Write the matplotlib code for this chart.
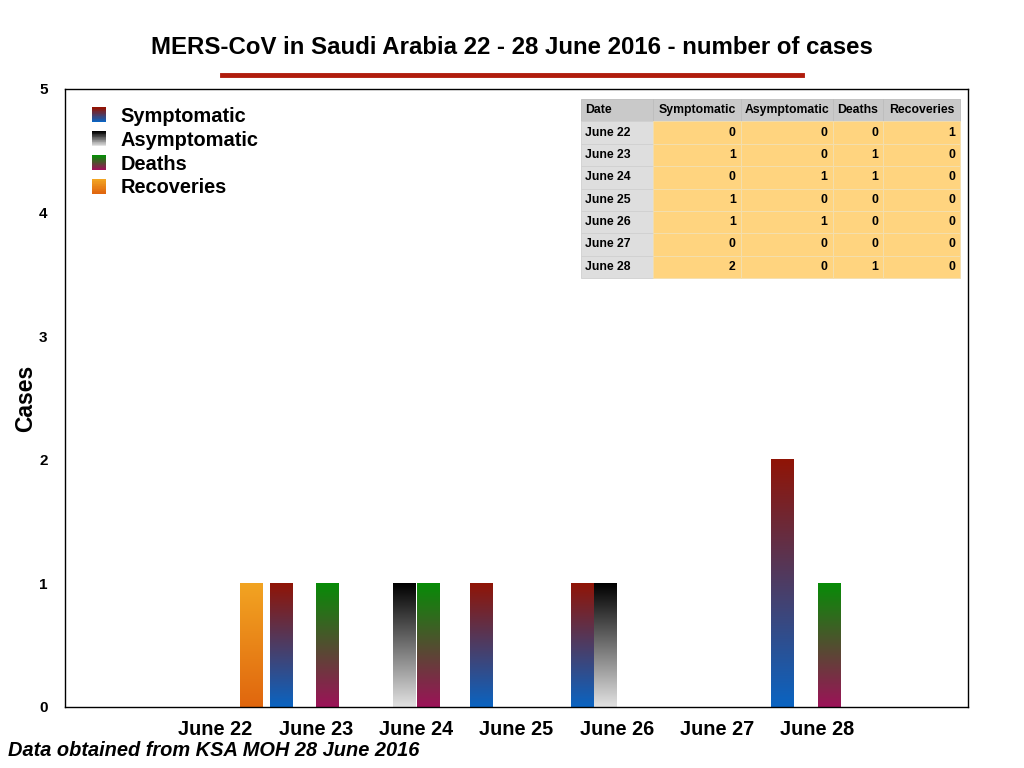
import numpy as np
import matplotlib
matplotlib.use('Agg')
import matplotlib.pyplot as plt
from matplotlib.colors import LinearSegmentedColormap
from matplotlib.lines import Line2D
from matplotlib.patches import Rectangle
from matplotlib.legend_handler import HandlerBase

plt.rcParams['font.family'] = ['Liberation Sans', 'DejaVu Sans']
plt.rcParams['font.weight'] = 'bold'

# Data
dates = ['June 22', 'June 23', 'June 24', 'June 25', 'June 26', 'June 27', 'June 28']
series = ['Symptomatic', 'Asymptomatic', 'Deaths', 'Recoveries']
symptomatic = [0, 1, 0, 1, 1, 0, 2]
asymptomatic = [0, 0, 1, 0, 1, 0, 0]
deaths = [0, 1, 1, 0, 0, 0, 1]
recoveries = [1, 0, 0, 0, 0, 0, 0]
values = [symptomatic, asymptomatic, deaths, recoveries]

# gradient colours (bottom, top)
gradients = [('#0a64c2', '#901406'),
             ('#e2e2e2', '#000000'),
             ('#9c1258', '#078c07'),
             ('#e0660e', '#f2a422')]
cmaps = [LinearSegmentedColormap.from_list(n, list(c)) for n, c in zip(series, gradients)]

fig = plt.figure(figsize=(10.24, 7.68), dpi=100)
ax = fig.add_axes([65/1024, 61/768, 903/1024, 618/768])

x = np.arange(len(dates))
width = 0.22
step = 0.233
grad = np.linspace(0, 1, 256).reshape(-1, 1)

for i, (name, vals) in enumerate(zip(series, values)):
    bars = ax.bar(x + (i - 1.5) * step, vals, width, color='none', edgecolor='none', zorder=2)
    for bar in bars:
        h = bar.get_height()
        if h == 0:
            continue
        x0 = bar.get_x()
        ax.imshow(grad, cmap=cmaps[i], origin='lower', aspect='auto',
                  extent=[x0, x0 + bar.get_width(), 0, h], zorder=2)

ax.set_xlim(-1.5, 7.5)
ax.set_ylim(0, 5)
ax.set_xticks(x)
ax.set_xticklabels(dates, fontsize=14.3, fontweight='bold')
ax.set_yticks(range(6))
ax.set_yticklabels([str(v) for v in range(6)], fontsize=11, fontweight='bold')
ax.tick_params(axis='both', length=0)
ax.tick_params(axis='y', pad=12.5)
ax.tick_params(axis='x', pad=9.5)
ax.set_ylabel('Cases', fontsize=16.5, fontweight='bold')
ax.yaxis.set_label_coords(-0.031, 0.5)
for s in ax.spines.values():
    s.set_linewidth(1.0)
    s.set_color('black')


# legend with gradient squares
class HandlerGradient(HandlerBase):
    def __init__(self, cmap):
        super().__init__()
        self.cmap = cmap

    def create_artists(self, legend, orig_handle, xdescent, ydescent, width, height, fontsize, trans):
        n = 20
        side = width
        y0 = -ydescent + (height - side) / 2
        artists = []
        for k in range(n):
            r = Rectangle((-xdescent, y0 + k * side / n), side, side / n + 0.3,
                          facecolor=self.cmap(k / (n - 1)), edgecolor='none', transform=trans)
            artists.append(r)
        return artists


handles = [Rectangle((0, 0), 1, 1) for _ in series]
ax.legend(handles, series, loc='upper left', bbox_to_anchor=(0.01, 1.0), frameon=False,
          handler_map={h: HandlerGradient(c) for h, c in zip(handles, cmaps)},
          prop={'size': 14.4, 'weight': 'bold'}, handlelength=0.72, handletextpad=0.7,
          labelspacing=0.24)

# table
col_labels = ['Date'] + series
cell_text = [[d, str(a), str(b), str(c), str(e)]
             for d, a, b, c, e in zip(dates, symptomatic, asymptomatic, deaths, recoveries)]
col_w = np.array([72, 88, 92, 50, 77], dtype=float)
col_w = col_w / col_w.sum()
tbl = ax.table(cellText=cell_text, colLabels=col_labels, colWidths=list(col_w),
               bbox=[516/903, 429/618, 379/903, 179/618], zorder=5)
tbl.auto_set_font_size(False)
tbl.set_fontsize(8.8)
for (r, c), cell in tbl.get_celld().items():
    cell.set_linewidth(0.6)
    txt = cell.get_text()
    txt.set_fontweight('bold')
    if r == 0:
        cell.set_facecolor('#c9c9c9')
        cell.set_edgecolor('#bdbdbd')
        txt.set_ha('left' if c == 0 else 'center')
    elif c == 0:
        cell.set_facecolor('#dedede')
        cell.set_edgecolor('#d0d0d0')
        txt.set_ha('left')
    else:
        cell.set_facecolor('#ffd47f')
        cell.set_edgecolor('#f3dfb0')
        txt.set_ha('right')
    cell.PAD = 0.06 if c != 3 else 0.1

# title, rule and footnote
fig.text(0.5, 1 - 47/768, 'MERS-CoV in Saudi Arabia 22 - 28 June 2016 - number of cases',
         ha='center', va='center', fontsize=17.3, fontweight='bold')
fig.add_artist(Line2D([222/1024, 802/1024], [1 - 75/768, 1 - 75/768],
                      color='#b01c0c', linewidth=3.5))
fig.text(8/1024, 1 - 751/768, 'Data obtained from KSA MOH 28 June 2016',
         ha='left', va='center', fontsize=14.4, fontweight='bold', style='italic')

plt.savefig('out.png', dpi=100)
